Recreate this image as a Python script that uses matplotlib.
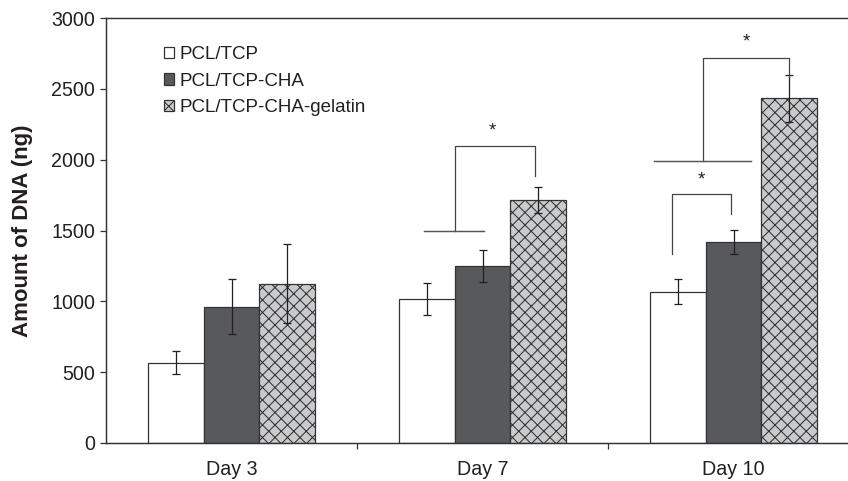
import matplotlib.pyplot as plt
import numpy as np

plt.rcParams['font.family'] = ['Liberation Sans', 'DejaVu Sans']
plt.rcParams['hatch.linewidth'] = 0.5

# Data
days = ['Day 3', 'Day 7', 'Day 10']
groups = ['PCL/TCP', 'PCL/TCP-CHA', 'PCL/TCP-CHA-gelatin']
pcl_tcp = [567, 1014, 1068]
pcl_tcp_err = [80, 112, 90]
pcl_tcp_cha = [962, 1252, 1417]
pcl_tcp_cha_err = [195, 113, 85]
pcl_tcp_cha_gel = [1125, 1715, 2433]
pcl_tcp_cha_gel_err = [277, 90, 167]

# significance brackets: (x left, x right, y top, y left end, y right end)
brackets = [
    (0.89, 1.21, 2100, 1500, 1885),
    (1.755, 1.99, 1755, 1335, 1615),
    (1.877, 2.22, 2718, 1988, 2582),
]
# horizontal base lines joining two bars: (x start, x end, y)
base_lines = [(0.767, 1.006, 1500), (1.684, 2.068, 1988)]
stars = [(1.04, 2200), (1.873, 1860), (2.05, 2830)]

ink = '#231f20'
dpi = 150
fig = plt.figure(figsize=(848 / dpi, 481 / dpi), dpi=dpi)
ax = fig.add_axes([106 / 848, 38 / 481, 753 / 848, 425 / 481])

x = np.arange(len(days))
w = 0.223
styles = [
    dict(color='white', hatch=None),
    dict(color='#58595b', hatch=None),
    dict(color='#c9cacc', hatch='xxxx'),
]
values = [pcl_tcp, pcl_tcp_cha, pcl_tcp_cha_gel]
errors = [pcl_tcp_err, pcl_tcp_cha_err, pcl_tcp_cha_gel_err]

for i, (vals, errs, st) in enumerate(zip(values, errors, styles)):
    ax.bar(x + (i - 1) * w, vals, w, color=st['color'], hatch=st['hatch'],
           edgecolor='#333333', linewidth=0.6, label=groups[i], zorder=2)
    ax.errorbar(x + (i - 1) * w, vals, yerr=errs, fmt='none', ecolor=ink,
                elinewidth=0.6, capsize=1.8, capthick=0.6, zorder=3)

# significance annotations
for xl, xr, yt, yl, yr in brackets:
    ax.plot([xl, xl, xr, xr], [yl, yt, yt, yr], color='#444444', lw=0.6, zorder=4)
for xs, xe, y in base_lines:
    ax.plot([xs, xe], [y, y], color='#555555', lw=0.7, zorder=4)
for sx, sy in stars:
    ax.text(sx, sy, '*', ha='center', va='center', fontsize=9, color=ink)

ax.set_xlim(-0.5, 2.5)
ax.set_ylim(0, 3000)
ax.set_yticks(np.arange(0, 3001, 500))
ax.set_xticks([0.5, 1.5, 2.5])
ax.set_xticklabels([])
ax.set_xticks(x, minor=True)
ax.set_xticklabels(days, minor=True)
ax.tick_params(axis='x', which='minor', length=0, pad=8, labelsize=9.4, colors=ink)
ax.tick_params(axis='x', which='major', length=2.8, width=0.6, color='#333333')
ax.tick_params(axis='y', length=2.8, width=0.6, pad=2.4, labelsize=9.4,
               color='#333333', labelcolor=ink)

for sp in ax.spines.values():
    sp.set_linewidth(0.7)
    sp.set_color('#333333')

ax.set_ylabel('Amount of DNA (ng)', fontsize=10.7, fontweight='bold', color=ink)
ax.yaxis.set_label_coords(-0.097, 0.5)

ax.legend(loc='upper left', bbox_to_anchor=(0.067, 0.952), frameon=False,
          fontsize=9, handlelength=0.56, handleheight=0.56, handletextpad=0.25,
          labelspacing=0.52, borderaxespad=0, labelcolor=ink)

fig.savefig('out.png', dpi=dpi)
